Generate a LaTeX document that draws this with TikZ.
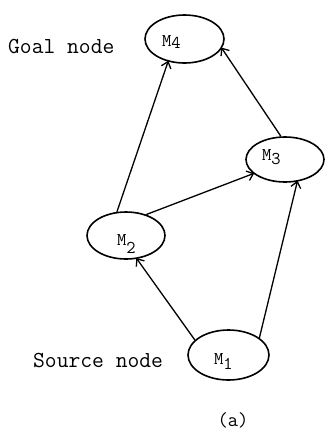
\documentclass[tikz,border=0pt]{standalone}
\usetikzlibrary{shapes.geometric,arrows.meta}
\newcommand\mlab[2]{\texttt{M}\raisebox{-#2pt}{\texttt{#1}}}
\tikzset{
  state/.style={draw, ellipse, line width=1.6pt, inner sep=0pt},
  lab/.style={anchor=base west, inner sep=0pt, font=\fontsize{18}{19}\ttfamily},
  side/.style={anchor=base west, inner sep=0pt, font=\fontsize{22.9}{24}\ttfamily},
  edge/.style={line width=1.3pt, -{Straight Barb[length=6pt,width=10pt,line width=1.3pt]}, shorten >=-1pt}
}
\begin{document}
\begin{tikzpicture}[x=1pt,y=-1pt]
\useasboundingbox (0,0) rectangle (325,432);
% states
\node[state, minimum width=79pt, minimum height=48pt] (m4) at (184.5,39) {};
\node[state, minimum width=78pt, minimum height=45pt] (m3) at (285,159.5) {};
\node[state, minimum width=78pt, minimum height=47pt] (m2) at (126,235.5) {};
\node[state, minimum width=81pt, minimum height=50pt] (m1) at (228.5,355) {};
% state labels
\node[lab] (t4) at (162,46) {\mlab{4}{2}};
\node[lab] (t3) at (262,160) {\mlab{3}{4}};
\node[lab] (t2) at (117,245) {\mlab{2}{8}};
\node[lab] (t1) at (214,364) {\mlab{1}{5}};
% side captions
\node[side] (goal) at (8,53) {Goal node};
\node[side] (src) at (33,367) {Source node};
\node[anchor=center, inner sep=0pt, font=\fontsize{20}{22}\ttfamily] (cap) at (233,420.5) {(a)};
% transitions
\draw[edge] (m2.111) -- (m4.234);
\draw[edge] (m3.100) -- (m4.346);
\draw[edge] (m2.46) -- (m3.204);
\draw[edge] (m1.156) -- (m2.295);
\draw[edge] (m1.29.5) -- (m3.299);
\end{tikzpicture}
\end{document}
